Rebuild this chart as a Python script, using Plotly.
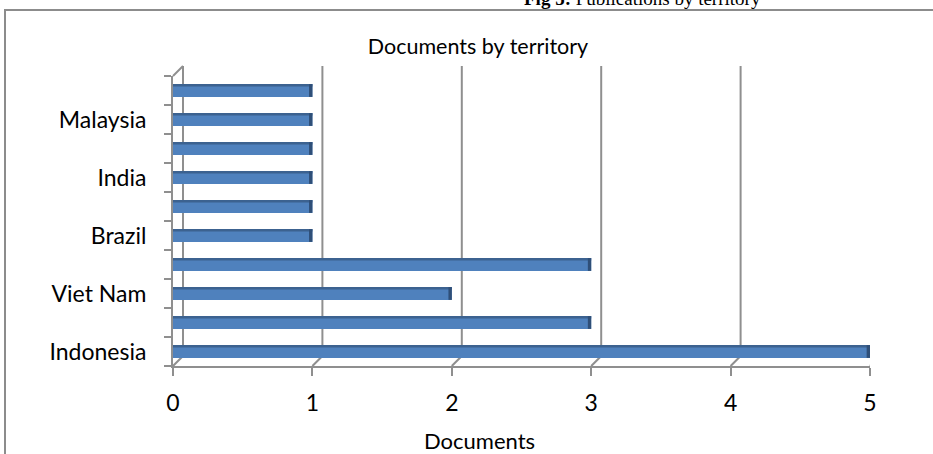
import plotly.graph_objects as go

# Documents per territory, bottom row first
positions = [0, 1, 2, 3, 4, 5, 6, 7, 8, 9]
documents = [5, 3, 2, 3, 1, 1, 1, 1, 1, 1]
label_positions = [0, 2, 4, 6, 8]
label_names = ["Indonesia", "Viet Nam", "Brazil", "India", "Malaysia"]
x_ticks = [0, 1, 2, 3, 4, 5]

FONT = "Lato, Carlito, Calibri, sans-serif"
AXIS_GREY = "#8f8f8f"
BAR_BODY = "#4f81bd"
BAR_TOP = "#3c6290"
BAR_END = "#2f4f78"

# Plot frame in pixels: front plane plus a back wall offset to fake depth
W, H = 933, 454
L, R, T, B = 173, 53, 66, 88
PW, PH = W - L - R, H - T - B
DEPTH = 10          # back wall offset (px)
MID = 5             # bar plane offset (px)
BAR_LIFT = 3

fx = (0, (PW - DEPTH) / PW)
fy = (0, (PH - DEPTH) / PH)
bx = (MID / PW, (PW - DEPTH + MID) / PW)
by = (BAR_LIFT / PH, (PH - DEPTH + BAR_LIFT) / PH)

bar_w = 0.44
top_w = 0.08
end_len = 0.024

fig = go.Figure()

# bar body
fig.add_trace(go.Bar(y=positions, x=documents, orientation="h", xaxis="x2", yaxis="y2",
                     width=bar_w, offset=-bar_w / 2,
                     marker=dict(color=BAR_BODY, line=dict(width=0)), showlegend=False))
# darker top face
fig.add_trace(go.Bar(y=positions, x=documents, orientation="h", xaxis="x2", yaxis="y2",
                     width=top_w, offset=bar_w / 2 - top_w,
                     marker=dict(color=BAR_TOP, line=dict(width=0)), showlegend=False))
# dark end cap
fig.add_trace(go.Bar(y=positions, x=[end_len] * len(documents),
                     base=[v - end_len for v in documents], orientation="h",
                     xaxis="x2", yaxis="y2", width=bar_w, offset=-bar_w / 2,
                     marker=dict(color=BAR_END, line=dict(width=0)), showlegend=False))

fig.update_layout(
    width=W, height=H,
    margin=dict(l=L, r=R, t=T, b=B),
    paper_bgcolor="white", plot_bgcolor="rgba(0,0,0,0)",
    barmode="overlay",
    font=dict(family=FONT, color="black", size=23),
    title=dict(text="Documents by territory", x=(478 - L) / PW, xref="paper", xanchor="center",
               y=1 - 46 / H, yanchor="middle", font=dict(family=FONT, size=21.5)),
    xaxis=dict(domain=fx, range=[0, 5], tickvals=x_ticks, ticks="outside", ticklen=8,
               tickcolor=AXIS_GREY, tickwidth=2, showline=True, linecolor=AXIS_GREY,
               linewidth=2, showgrid=False, zeroline=False, anchor="y",
               ticklabelstandoff=7, tickfont=dict(size=23)),
    yaxis=dict(domain=fy, range=[-0.5, 9.5], tickvals=label_positions, ticktext=label_names,
               ticks="", showline=True, linecolor=AXIS_GREY, linewidth=2, showgrid=False,
               zeroline=False, anchor="x", ticklabelstandoff=20, tickfont=dict(size=23),
               minor=dict(tick0=-0.5, dtick=1, ticks="outside", ticklen=7,
                          tickcolor=AXIS_GREY, tickwidth=2, showgrid=False)),
    xaxis2=dict(domain=bx, range=[0, 5], overlaying="x", anchor="y2", visible=False),
    yaxis2=dict(domain=by, range=[-0.5, 9.5], overlaying="y", anchor="x2", visible=False),
)

grid_line = dict(color=AXIS_GREY, width=2)
shapes = []
for v in x_ticks:
    # back-wall gridline, shifted up and right by the depth offset
    shapes.append(dict(type="line", xref="x", yref="paper", xsizemode="pixel", xanchor=v,
                       x0=DEPTH, x1=DEPTH, y0=DEPTH / PH, y1=1, line=grid_line, layer="below"))
    # floor diagonal joining the front tick to the back gridline
    shapes.append(dict(type="line", xref="x", yref="paper", xsizemode="pixel", xanchor=v,
                       x0=0, x1=DEPTH, y0=0, y1=DEPTH / PH, line=grid_line, layer="below"))
# top-left corner of the side wall
shapes.append(dict(type="line", xref="paper", yref="paper", x0=0, x1=DEPTH / PW,
                   y0=fy[1], y1=1, line=grid_line, layer="below"))
# outer frame around the chart object
shapes.append(dict(type="rect", xref="paper", yref="paper",
                   x0=(5 - L) / PW, x1=(W + 20 - L) / PW,
                   y0=-(B + 20) / PH, y1=(H - B - 10) / PH,
                   line=dict(color="#8c8c8c", width=2), fillcolor="rgba(0,0,0,0)"))
fig.update_layout(shapes=shapes)

# horizontal axis title
fig.add_annotation(text="Documents", xref="paper", yref="paper",
                   x=(479 - L) / PW, y=-(440 - (H - B)) / PH, xanchor="center", yanchor="middle",
                   showarrow=False, font=dict(family=FONT, size=22, color="black"))

# figure caption partly above the chart object
fig.add_annotation(text="<b>Fig 5:</b> Publications by territory", xref="paper", yref="paper",
                   x=(642 - L) / PW, y=(H - B + 1) / PH, xanchor="center", yanchor="middle",
                   showarrow=False, font=dict(family="Liberation Serif, Times New Roman, serif",
                                              size=19, color="black"))

fig.write_html("out.html")
